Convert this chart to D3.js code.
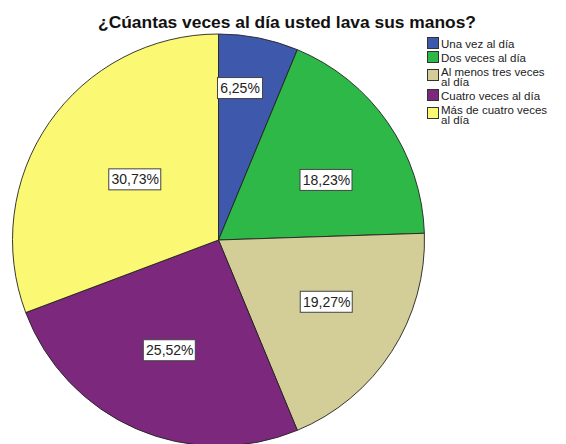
<!DOCTYPE html>
<html>
<head>
<meta charset="utf-8">
<script src="https://cdn.jsdelivr.net/npm/d3@7"></script>
<style>
  html, body { margin: 0; padding: 0; background: #fff; }
  svg { display: block; }
</style>
</head>
<body>
<svg id="chart" width="566" height="444"></svg>
<script>
// Answers to the hand-washing question, in drawing order (clockwise from 12 o'clock)
const categories = [
  "Una vez al día",
  "Dos veces al día",
  "Al menos tres veces al día",
  "Cuatro veces al día",
  "Más de cuatro veces al día"
];
const percentages = [6.25, 18.23, 19.27, 25.52, 30.73];
const legendLines = [
  ["Una vez al día"],
  ["Dos veces al día"],
  ["Al menos tres veces", "al día"],
  ["Cuatro veces al día"],
  ["Más de cuatro veces", "al día"]
];
const sliceColors = ["#3e58ac", "#2eb848", "#d3ce97", "#7c287d", "#fbf873"];
const titleText = "¿Cúantas veces al día usted lava sus manos?";

const svg = d3.select("#chart");
const cx = 218.5, cy = 240, R = 206;

// title
svg.append("text")
  .attr("x", 287).attr("y", 27.5)
  .attr("text-anchor", "middle")
  .attr("font-family", "Liberation Sans, Arial, sans-serif")
  .attr("font-weight", "bold")
  .attr("font-size", 17.4)
  .attr("fill", "#111")
  .text(titleText);

const color = d3.scaleOrdinal().domain(categories).range(sliceColors);

const pie = d3.pie().sort(null).value(d => d.value).startAngle(0).endAngle(2 * Math.PI);
const data = categories.map((c, i) => ({ cat: c, value: percentages[i] }));
const arcs = pie(data);
const arc = d3.arc().innerRadius(0).outerRadius(R);

const g = svg.append("g").attr("transform", `translate(${cx},${cy})`);

g.selectAll("path.slice")
  .data(arcs)
  .join("path")
  .attr("class", "slice")
  .attr("d", arc)
  .attr("fill", d => color(d.data.cat))
  .attr("stroke", "#222")
  .attr("stroke-width", 0.9)
  .attr("stroke-linejoin", "round");

// value labels: radius factor and small angular nudge per slice
const labelRadius = [0.745, 0.6, 0.605, 0.585, 0.5];
const labelNudgeDeg = [-3.2, 5.6, -3.1, 0.4, 1.4];
const fmt = v => v.toFixed(2).replace(".", ",") + "%";

const labels = g.selectAll("g.lbl")
  .data(arcs)
  .join("g")
  .attr("class", "lbl")
  .attr("transform", (d, i) => {
    const a = (d.startAngle + d.endAngle) / 2 + labelNudgeDeg[i] * Math.PI / 180;
    const r = R * labelRadius[i];
    return `translate(${r * Math.sin(a)},${-r * Math.cos(a)})`;
  });

labels.append("text")
  .attr("text-anchor", "middle")
  .attr("dy", "0.36em")
  .attr("font-family", "Liberation Sans, Arial, sans-serif")
  .attr("font-size", 14)
  .attr("fill", "#222")
  .text(d => fmt(d.data.value));

labels.each(function() {
  const gEl = d3.select(this);
  const bb = gEl.select("text").node().getBBox();
  gEl.insert("rect", "text")
    .attr("x", Math.round(bb.x) - 2.5)
    .attr("y", -10.5)
    .attr("width", Math.round(bb.width) + 5)
    .attr("height", 21)
    .attr("fill", "#fff")
    .attr("stroke", "#444")
    .attr("stroke-width", 1);
});

// legend
const legend = svg.append("g").attr("transform", "translate(427,37)");
const itemTops = [0, 14, 28, 52, 66];
const item = legend.selectAll("g.item")
  .data(categories)
  .join("g")
  .attr("class", "item")
  .attr("transform", (d, i) => `translate(0,${itemTops[i]})`);

item.append("rect")
  .attr("x", 0.5)
  .attr("y", (d, i) => legendLines[i].length > 1 ? 4.5 : 0.5)
  .attr("width", 11).attr("height", 11)
  .attr("fill", d => color(d))
  .attr("stroke", "#333")
  .attr("stroke-width", 1);

item.each(function(d, i) {
  const t = d3.select(this).append("text")
    .attr("font-family", "Liberation Sans, Arial, sans-serif")
    .attr("font-size", 11.5)
    .attr("fill", "#222");
  legendLines[i].forEach((ln, k) => {
    t.append("tspan").attr("x", 14).attr("y", 10.5 + k * 10.5).text(ln);
  });
});
</script>
</body>
</html>
